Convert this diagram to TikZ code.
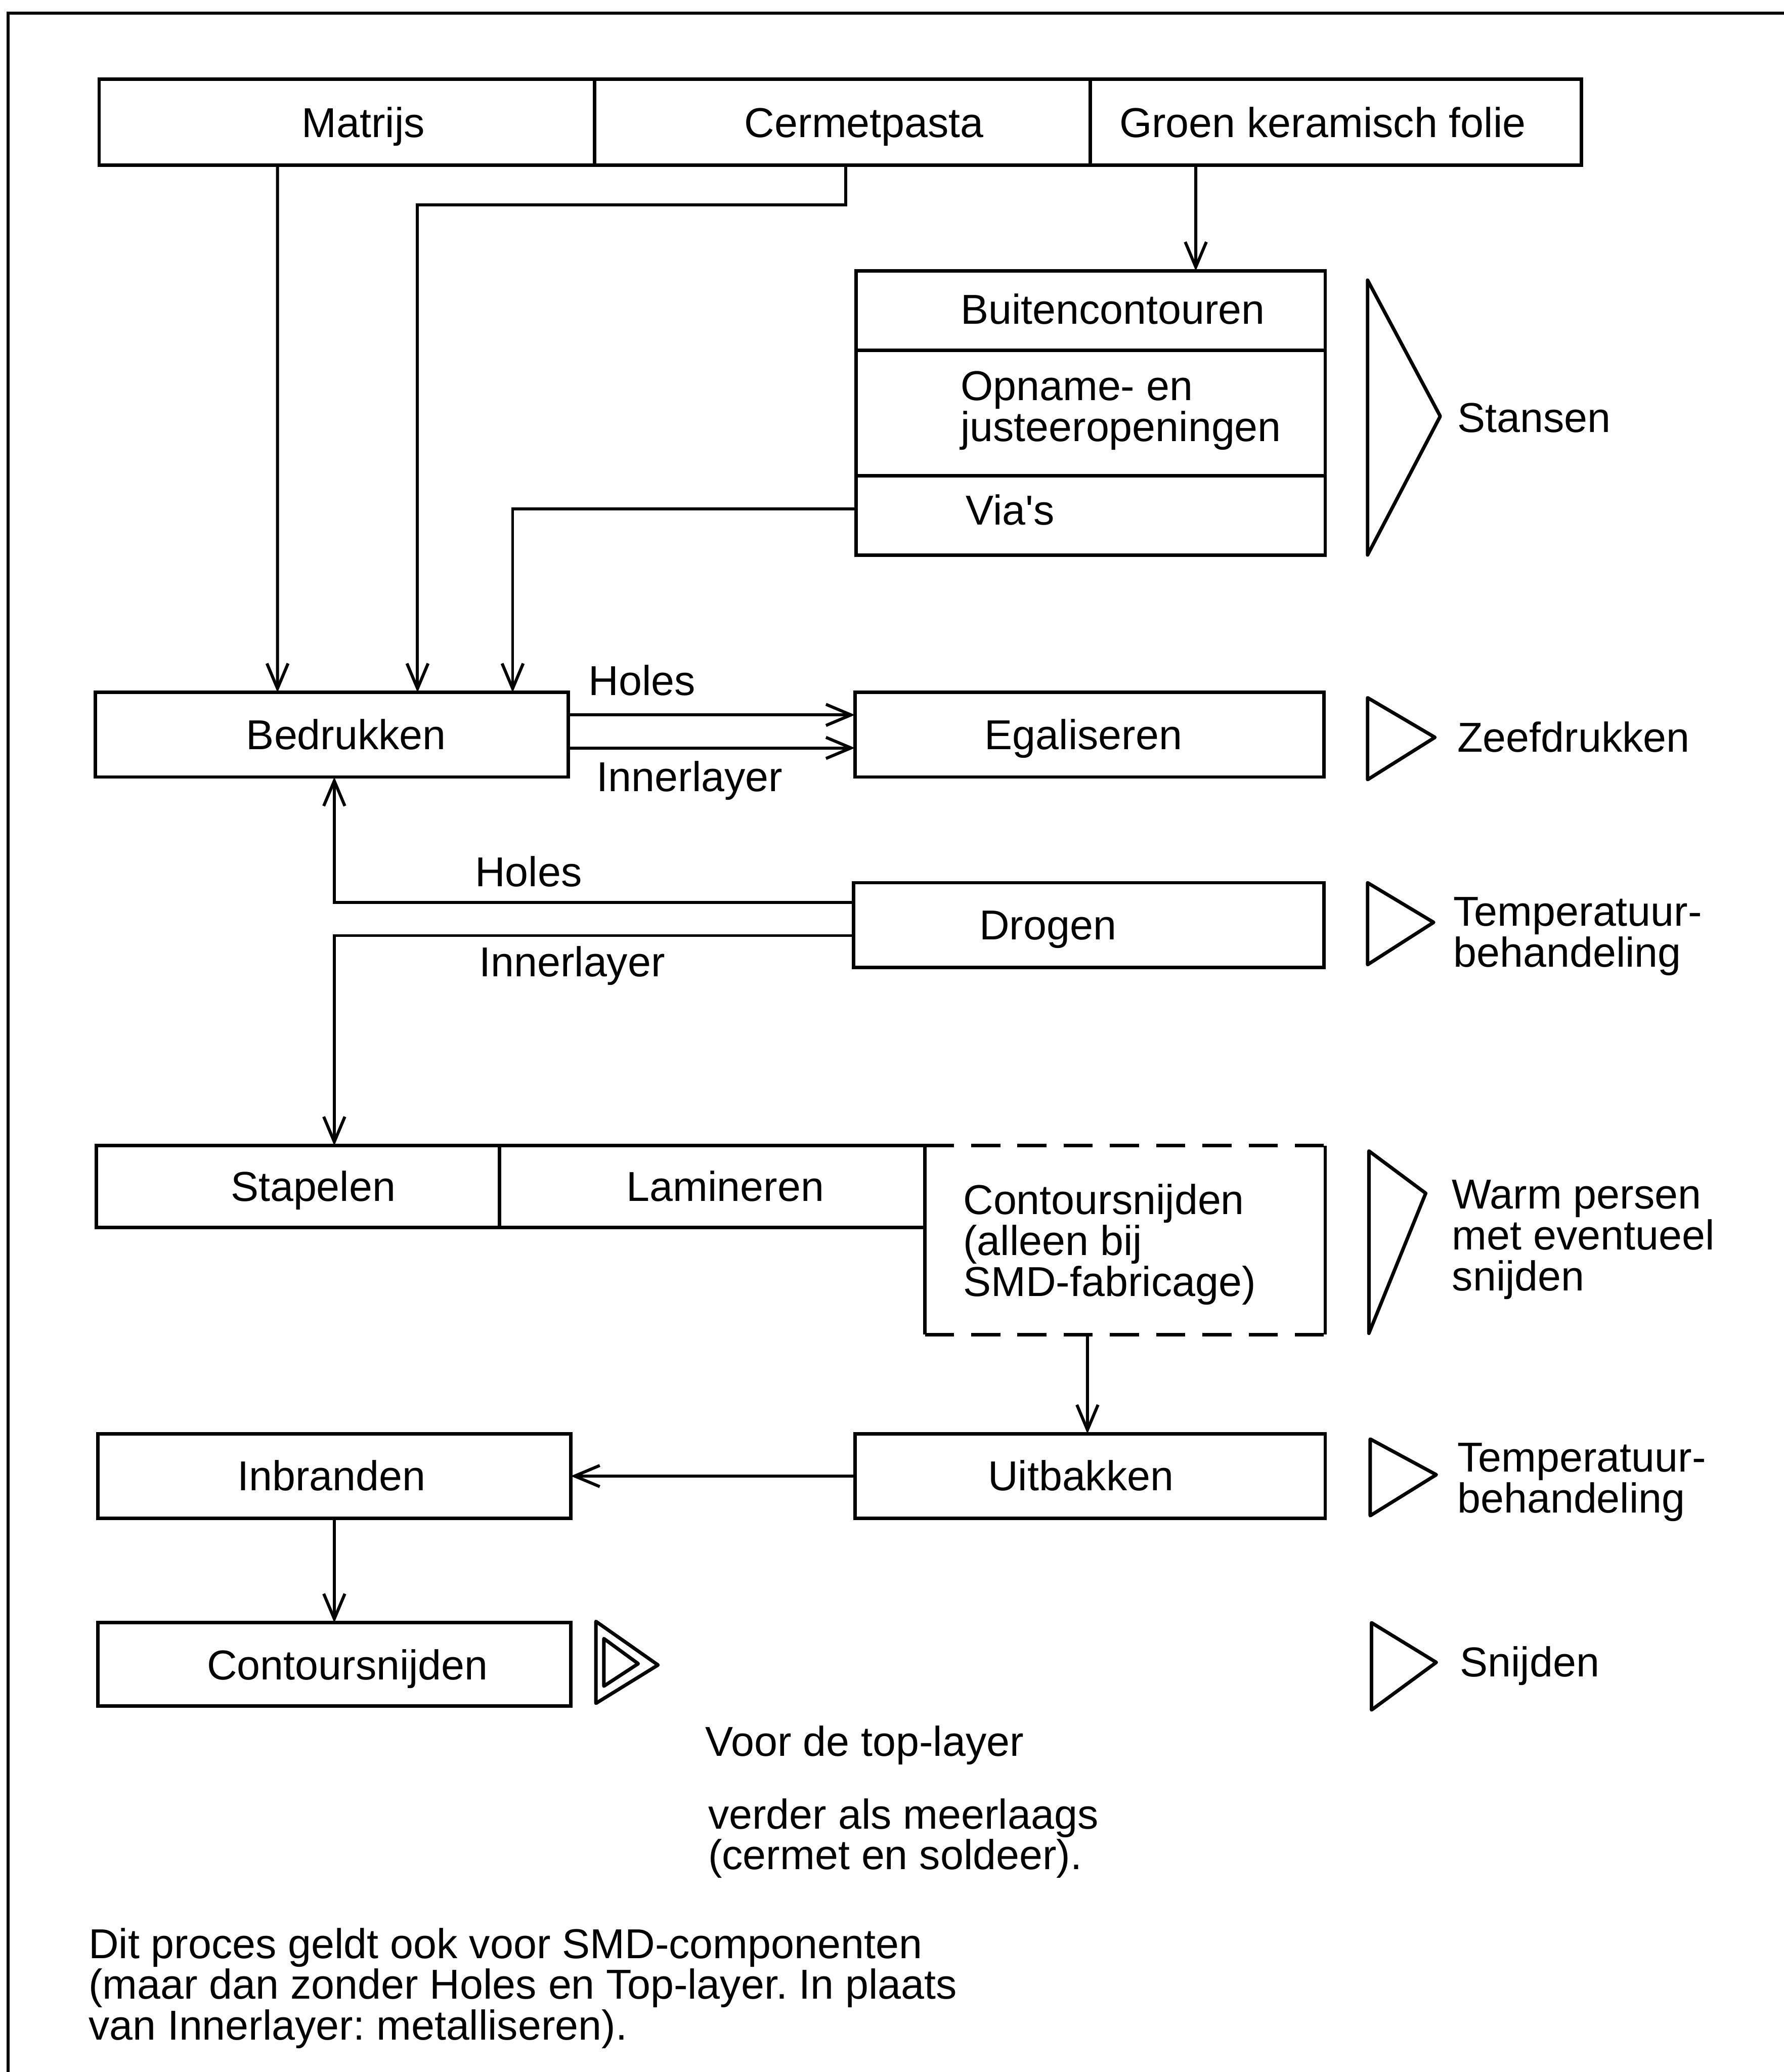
\documentclass[tikz,border=0pt]{standalone}
\usepackage{fontspec}
\setmainfont{Liberation Sans}
\usetikzlibrary{arrows.meta}
\frenchspacing
\begin{document}
\begin{tikzpicture}[x=0.02cm,y=-0.02cm,
  box/.style={draw, line width=1.5pt, rectangle, inner sep=0pt, outer sep=0pt},
  plain/.style={rectangle, inner sep=0pt, outer sep=0pt},
  txt/.style={inner sep=0pt, outer sep=0pt, font=\fontsize{18}{17.6}\selectfont, align=left},
  conn/.style={line width=1.3pt},
  arr/.style={conn, -{Straight Barb[length=0.38cm,width=0.32cm,line width=1.3pt]}},
  tri/.style={line width=1.5pt, line join=round},
  dsh/.style={line width=1.5pt, dash pattern=on 0.44cm off 0.26cm}]
\fill[white] (0,0) rectangle (1350,1568);
\useasboundingbox (0,0) rectangle (1350,1568);

% frame
\draw[line width=1.3pt] (6,1568) -- (6,10) -- (1350,10);

% top row
\node[box, minimum width=7.5cm, minimum height=1.3cm] (matrijs) at (262.5,92.5) {};
\node[box, minimum width=7.5cm, minimum height=1.3cm] (cermet) at (637.5,92.5) {};
\node[box, minimum width=7.44cm, minimum height=1.3cm] (groen) at (1011,92.5) {};
\node[txt, anchor=base] (matrijsT) at (275,104) {Matrijs};
\node[txt, anchor=base] (cermetT) at (654,104) {Cermetpasta};
\node[txt, anchor=base] (groenT) at (1001,104) {Groen keramisch folie};

% Stansen stack
\node[box, minimum width=7.1cm, minimum height=1.2cm] (buiten) at (825.5,235) {};
\node[box, minimum width=7.1cm, minimum height=1.9cm] (opname) at (825.5,312.5) {};
\node[box, minimum width=7.1cm, minimum height=1.2cm] (vias) at (825.5,390) {};
\node[txt, anchor=base west] (buitenT) at (727,245) {Buitencontouren};
\node[txt, anchor=north west] (opnameT) at (727,281) {Opname- en\\justeeropeningen};
\node[txt, anchor=base west] (viasT) at (731,397) {Via\textquotesingle s};

% Bedrukken / Egaliseren
\node[box, minimum width=7.16cm, minimum height=1.28cm] (bedrukken) at (251,556) {};
\node[box, minimum width=7.1cm, minimum height=1.28cm] (egaliseren) at (824.5,556) {};
\node[txt, anchor=base] (bedrukkenT) at (262,567) {Bedrukken};
\node[txt, anchor=base] (egaliserenT) at (820,567) {Egaliseren};
\node[txt, anchor=base] (holesA) at (486,526) {Holes};
\node[txt, anchor=base] (innerA) at (522,599) {Innerlayer};

% Drogen
\node[box, minimum width=7.12cm, minimum height=1.28cm] (drogen) at (824,700) {};
\node[txt, anchor=base] (drogenT) at (793,711) {Drogen};
\node[txt, anchor=base] (holesB) at (400,671) {Holes};
\node[txt, anchor=base] (innerB) at (433,739) {Innerlayer};

% Stapelen / Lamineren / Contoursnijden (dashed)
\node[box, minimum width=6.1cm, minimum height=1.24cm] (stapelen) at (225.5,898) {};
\node[box, minimum width=6.44cm, minimum height=1.24cm] (lamineren) at (539,898) {};
\node[plain, minimum width=6.06cm, minimum height=2.86cm] (contour1) at (851.5,938.5) {};
\draw[dsh] (contour1.north west) -- (contour1.north east);
\draw[dsh] (contour1.south west) -- (contour1.south east);
\draw[line width=1.5pt] (contour1.north west) -- (contour1.south west);
\draw[line width=1.5pt] (contour1.north east) -- (contour1.south east);
\node[txt, anchor=base] (stapelenT) at (237,909) {Stapelen};
\node[txt, anchor=base] (laminerenT) at (549,909) {Lamineren};
\node[txt, anchor=north west] (contour1T) at (729,896) {Contoursnijden\\(alleen bij\\SMD-fabricage)};

% Uitbakken / Inbranden
\node[box, minimum width=7.12cm, minimum height=1.28cm] (uitbakken) at (825,1117) {};
\node[box, minimum width=7.16cm, minimum height=1.28cm] (inbranden) at (253,1117) {};
\node[txt, anchor=base] (uitbakkenT) at (818,1128) {Uitbakken};
\node[txt, anchor=base] (inbrandenT) at (251,1128) {Inbranden};

% Contoursnijden
\node[box, minimum width=7.16cm, minimum height=1.26cm] (contour2) at (253,1259.5) {};
\node[txt, anchor=base] (contour2T) at (263,1271) {Contoursnijden};

% right column triangles and labels
\draw[tri] (1035,212) -- (1090,315) -- (1035,420) -- cycle;
\node[txt, anchor=base west] (stansen) at (1103,327) {Stansen};
\draw[tri] (1035,528) -- (1086,558) -- (1035,590) -- cycle;
\node[txt, anchor=base west] (zeef) at (1103,569) {Zeefdrukken};
\draw[tri] (1035,668) -- (1085,698) -- (1035,730) -- cycle;
\node[txt, anchor=north west] (temp1) at (1100,679) {Temperatuur-\\behandeling};
\draw[tri] (1036,871) -- (1079,903) -- (1036,1009) -- cycle;
\node[txt, anchor=north west] (warm) at (1099,893) {Warm persen\\met eventueel\\snijden};
\draw[tri] (1037,1089) -- (1087,1116) -- (1037,1147) -- cycle;
\node[txt, anchor=north west] (temp2) at (1103,1092) {Temperatuur-\\behandeling};
\draw[tri] (1038,1228) -- (1087,1258) -- (1038,1294) -- cycle;
\node[txt, anchor=base west] (snijden) at (1105,1269) {Snijden};

% double triangle
\draw[tri] (451,1227) -- (498,1260) -- (451,1289) -- cycle;
\draw[tri] (457,1240) -- (483,1259) -- (457,1276) -- cycle;

% notes
\node[txt, anchor=base west] (voor) at (534,1329) {Voor de top-layer};
\node[txt, anchor=north west] (verder) at (536,1361) {verder als meerlaags\\(cermet en soldeer).};
\node[txt, anchor=north west] (footer) at (67,1459) {Dit proces geldt ook voor SMD-componenten\\(maar dan zonder Holes en Top-layer. In plaats\\van Innerlayer: metalliseren).};

% connectors
\draw[arr] ([xshift=-1.05cm]matrijs.south) -- ([xshift=-0.82cm]bedrukken.north);
\draw[arr] ([xshift=0.05cm]cermet.south) -- ++(0,30) -| ([xshift=1.3cm]bedrukken.north);
\draw[arr] ([xshift=-2.12cm]groen.south) -- ([xshift=1.59cm]buiten.north);
\draw[arr] ([yshift=0.1cm]vias.west) -| ([xshift=2.74cm]bedrukken.north);
\draw[arr] ([yshift=0.3cm]bedrukken.east) -- ([yshift=0.3cm]egaliseren.west);
\draw[arr] ([yshift=-0.2cm]bedrukken.east) -- ([yshift=-0.2cm]egaliseren.west);
\draw[arr] ([yshift=0.34cm]drogen.west) -| ([xshift=0.04cm]bedrukken.south);
\draw[arr] ([yshift=-0.16cm]drogen.west) -| ([xshift=0.55cm]stapelen.north);
\draw[arr] ([xshift=-0.57cm]contour1.south) -- ([xshift=-0.04cm]uitbakken.north);
\draw[arr] (uitbakken.west) -- (inbranden.east);
\draw[arr] (inbranden.south) -- (contour2.north);
\end{tikzpicture}
\end{document}
